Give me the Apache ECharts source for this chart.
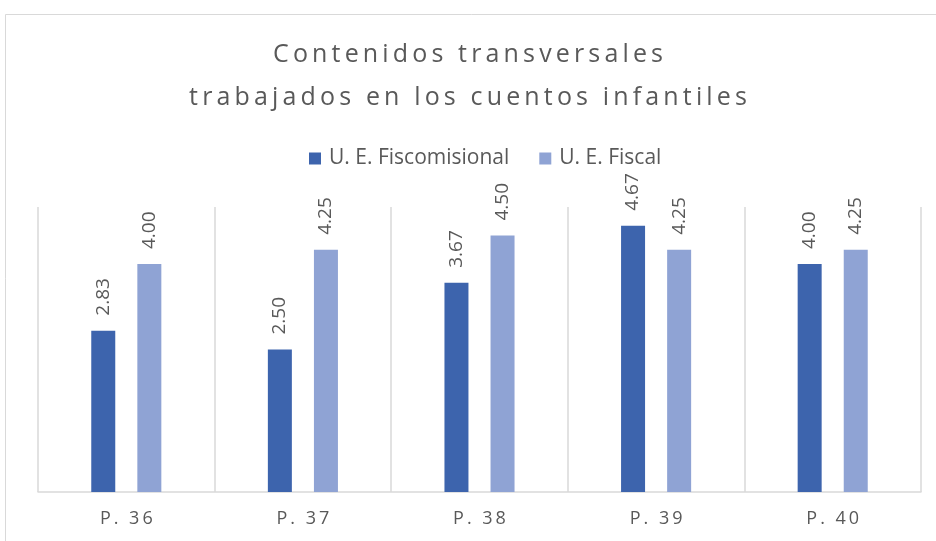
<!DOCTYPE html>
<html>
<head>
<meta charset="utf-8">
<script src="https://cdn.jsdelivr.net/npm/echarts@6/dist/echarts.min.js"></script>
<style>
  html, body { margin: 0; padding: 0; background: #fff; }
  #chart { width: 936px; height: 541px; }
</style>
</head>
<body>
<div id="chart"></div>
<script>
const categories = ['P. 36', 'P. 37', 'P. 38', 'P. 39', 'P. 40']
const fiscomisional = [2.83, 2.50, 3.67, 4.67, 4.00]
const fiscal = [4.00, 4.25, 4.50, 4.25, 4.25]
const seriesNames = ['U. E. Fiscomisional', 'U. E. Fiscal']
const titleLines = ['Contenidos transversales', 'trabajados en los cuentos infantiles']

// spread letters a little, like the original's character spacing
const spaced = (s, sep) => s.split('').join(sep)

const chart = echarts.init(document.getElementById('chart'))

const labelStyle = {
  show: true,
  position: 'top',
  rotate: 90,
  align: 'left',
  verticalAlign: 'middle',
  distance: 15,
  fontSize: 19,
  color: '#595959',
  fontFamily: 'Open Sans',
  formatter: p => p.value.toFixed(2)
}

chart.setOption({
  animation: false,
  backgroundColor: '#fff',
  graphic: [{
    type: 'rect',
    shape: { x: 5.5, y: 14.5, width: 940, height: 540 },
    style: { fill: 'none', stroke: '#d9d9d9', lineWidth: 1 },
    silent: true
  }],
  title: {
    text: titleLines.map(l => spaced(l, '\u2009')).join('\n'),
    left: 'center',
    top: 28,
    textStyle: {
      fontSize: 25,
      fontWeight: 'normal',
      color: '#595959',
      fontFamily: 'Open Sans',
      lineHeight: 43
    }
  },
  legend: {
    data: seriesNames,
    top: 143,
    left: 304,
    icon: 'rect',
    itemWidth: 12,
    itemHeight: 12,
    itemGap: 30,
    textStyle: { fontSize: 21, color: '#595959', fontFamily: 'Open Sans', padding: [0, 0, 0, 3] }
  },
  grid: { left: 38, right: 15, top: 207, bottom: 49 },
  xAxis: {
    type: 'category',
    data: categories,
    axisLine: { lineStyle: { color: '#d9d9d9', width: 1.5 } },
    axisTick: { show: false },
    splitLine: { show: true, lineStyle: { color: '#d9d9d9', width: 1.5 } },
    axisLabel: {
      fontSize: 18,
      color: '#595959',
      fontFamily: 'Open Sans',
      margin: 18,
      formatter: v => spaced(v, '\u2009')
    }
  },
  yAxis: {
    type: 'value',
    min: 0,
    max: 5,
    show: false,
    splitLine: { show: false }
  },
  series: [
    {
      name: seriesNames[0],
      type: 'bar',
      data: fiscomisional,
      barWidth: 24,
      barGap: '92%',
      itemStyle: { color: '#3d64ad' },
      label: labelStyle
    },
    {
      name: seriesNames[1],
      type: 'bar',
      data: fiscal,
      barWidth: 24,
      itemStyle: { color: '#8fa3d4' },
      label: labelStyle
    }
  ]
})
</script>
</body>
</html>
